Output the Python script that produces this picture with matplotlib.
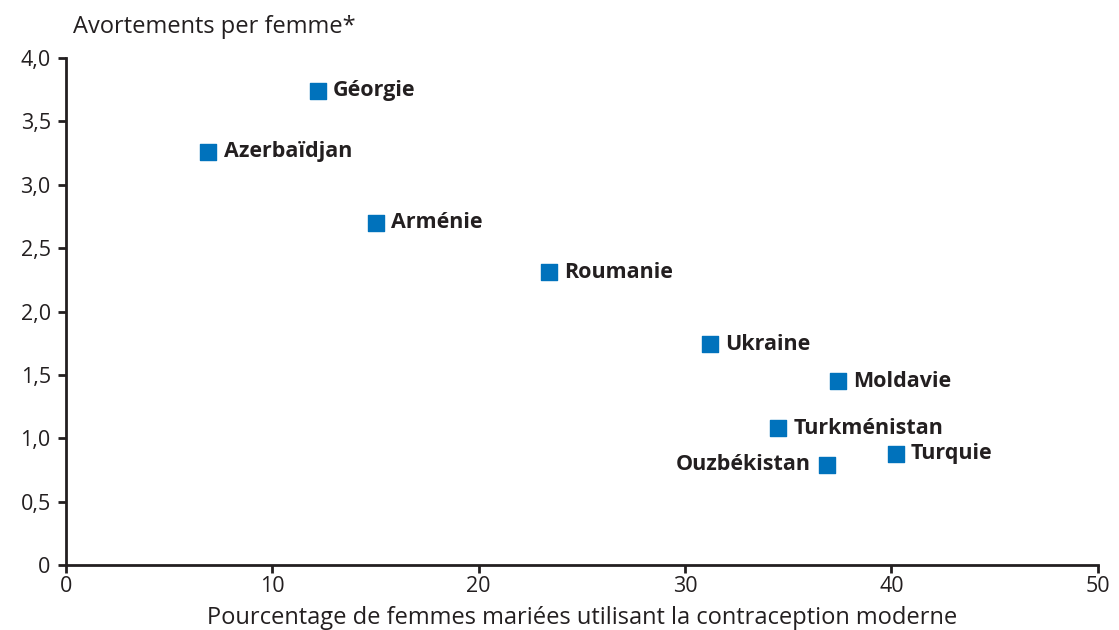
import matplotlib.pyplot as plt

plt.rcParams['font.family'] = ['Open Sans', 'DejaVu Sans']

pays = ["Géorgie", "Azerbaïdjan", "Arménie", "Roumanie", "Ukraine",
        "Moldavie", "Turkménistan", "Ouzbékistan", "Turquie"]
contraception = [12.2, 6.9, 15.0, 23.4, 31.2, 37.4, 34.5, 36.9, 40.2]
avortements = [3.74, 3.26, 2.70, 2.31, 1.74, 1.45, 1.08, 0.79, 0.88]
cote = ["d", "d", "d", "d", "d", "d", "d", "g", "d"]

xticks = [0, 10, 20, 30, 40, 50]
yticks = [0, 0.5, 1.0, 1.5, 2.0, 2.5, 3.0, 3.5, 4.0]
ylabels = ["0", "0,5", "1,0", "1,5", "2,0", "2,5", "3,0", "3,5", "4,0"]

bleu = "#0072BC"
noir = "#231F20"

fig = plt.figure(figsize=(11.19, 6.3), dpi=100)
ax = fig.add_axes([0.059, 0.103, 0.922, 0.805])

ax.scatter(contraception, avortements, marker="s", s=125, color=bleu,
           zorder=3, clip_on=False)

for nom, x, y, c in zip(pays, contraception, avortements, cote):
    if c == "d":
        ax.annotate(nom, (x, y), xytext=(11, 0), textcoords="offset points",
                    ha="left", va="center", fontsize=15.5, fontweight="bold",
                    color=noir)
    else:
        ax.annotate(nom, (x, y), xytext=(-12, 0), textcoords="offset points",
                    ha="right", va="center", fontsize=15.5, fontweight="bold",
                    color=noir)

ax.set_xlim(0, 50)
ax.set_ylim(0, 4.0)
ax.set_xticks(xticks)
ax.set_xticklabels([str(v) for v in xticks])
ax.set_yticks(yticks)
ax.set_yticklabels(ylabels)

for s in ["top", "right"]:
    ax.spines[s].set_visible(False)
for s in ["left", "bottom"]:
    ax.spines[s].set_linewidth(2)
    ax.spines[s].set_color(noir)

ax.tick_params(axis="both", colors=noir, labelsize=15.5, width=2, length=6)
ax.tick_params(axis="x", pad=2)
ax.tick_params(axis="y", pad=5)

ax.set_xlabel("Pourcentage de femmes mariées utilisant la contraception moderne",
              fontsize=17, color=noir, labelpad=6)
fig.text(73 / 1119, 1 - 27 / 630, "Avortements per femme*", fontsize=17,
         color=noir, ha="left", va="center")

fig.savefig("out.png", dpi=100)
